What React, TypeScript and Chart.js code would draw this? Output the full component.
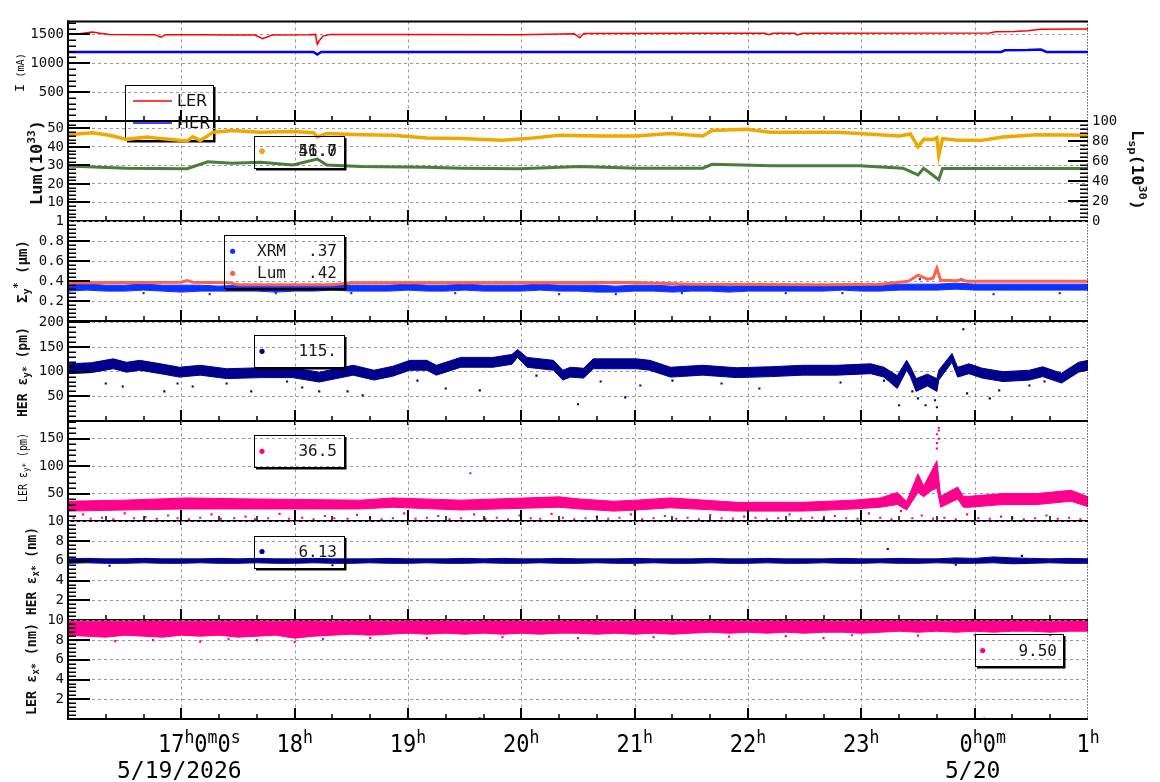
import React, { useEffect, useRef } from 'react';
import { Chart, registerables } from 'chart.js';

Chart.register(...registerables);

// ================= DATA (x = minutes after 16:00, 5/19/2026) =================
const T10 = [0, 10, 20, 30, 40, 50, 60, 70, 80, 90, 100, 110, 120, 130, 140, 150, 160, 170, 180, 190, 200, 210, 220, 230, 240, 250, 260, 270, 280, 290, 300, 310, 320, 330, 340, 350, 360, 370, 380, 390, 400, 410, 420, 430, 440, 450, 460, 470, 480, 490, 500, 510, 520, 530, 540];
const hourTicks = [60, 120, 180, 240, 300, 360, 420, 480, 540];
const timeTickLabels = ['17^h0^m0^s', '18^h', '19^h', '20^h', '21^h', '22^h', '23^h', '0^h0^m', '1^h'];
const dateTickMinutes = [60, 480];
const dateLabels = ['5/19/2026', '5/20'];

// Panel 1 : beam current (mA)
const lerT = [0, 6, 13, 17, 22, 46, 49, 52, 70, 86, 99, 103, 108, 128, 131, 132, 133, 135, 139, 176, 239, 268, 271, 273, 335, 369, 371, 373, 385, 386, 389, 488, 491, 501, 508, 515, 540];
const lerI = [1510, 1510, 1540, 1520, 1500, 1495, 1450, 1495, 1495, 1490, 1490, 1425, 1490, 1495, 1500, 1330, 1390, 1470, 1500, 1500, 1495, 1510, 1440, 1515, 1520, 1520, 1495, 1520, 1520, 1490, 1520, 1525, 1545, 1550, 1565, 1590, 1595];
const herT = [0, 130, 132, 134, 494, 496, 508, 515, 518, 540];
const herI = [1195, 1195, 1150, 1195, 1195, 1225, 1230, 1240, 1195, 1195];
const currentTicks = [500, 1000, 1500];

// Panel 2 : luminosity
const lumT = [0, 13, 22, 31, 42, 49, 63, 66, 70, 77, 87, 102, 119, 130, 132, 137, 155, 172, 190, 208, 230, 243, 260, 282, 301, 319, 336, 341, 359, 372, 407, 419, 440, 446, 450, 453, 458, 460, 461, 463, 471, 484, 495, 513, 540];
const lumV = [46.6, 47.7, 46.3, 44.1, 45.4, 44.5, 43.2, 45.5, 43.5, 48, 48.9, 48, 48.4, 47.7, 45.4, 47.2, 46.6, 46.3, 44.8, 44.5, 43.6, 44.5, 46.3, 45.9, 45.9, 47.2, 45.9, 48.9, 49.5, 48, 48, 47.2, 45.9, 47, 40, 44.1, 44, 45, 35.6, 44.5, 43.6, 43.6, 45.4, 46.6, 46.3];
const lspT = [0, 31, 63, 74, 87, 102, 119, 132, 137, 155, 190, 208, 239, 271, 301, 336, 341, 372, 419, 442, 450, 453, 461, 463, 495, 540];
const lspV = [29.7, 28.5, 28.2, 32, 31.2, 31.7, 30.3, 33.5, 30.3, 29.4, 29, 28.5, 28.2, 29.4, 28.5, 28.5, 30.6, 29.9, 29.9, 28.5, 24.9, 28.5, 22.3, 28.3, 28.3, 28.3];
const lumTicks = [10, 20, 30, 40, 50];
const lspTicks = [0, 20, 40, 60, 80, 100];

// Panel 3 : Sigma_y* (um)
const sigLumT = [0, 60, 63, 66, 85, 90, 140, 150, 300, 330, 400, 430, 440, 445, 450, 455, 458, 460, 462, 470, 473, 476, 540];
const sigLumV = [0.385, 0.39, 0.405, 0.39, 0.385, 0.365, 0.363, 0.385, 0.387, 0.37, 0.365, 0.368, 0.39, 0.40, 0.46, 0.42, 0.43, 0.53, 0.41, 0.405, 0.415, 0.40, 0.40];
const xrmHi = [0.36, 0.37, 0.36, 0.36, 0.37, 0.36, 0.36, 0.36, 0.35, 0.36,
  0.36, 0.35, 0.36, 0.36, 0.37, 0.36, 0.36, 0.36, 0.37, 0.36,
  0.36, 0.37, 0.36, 0.36, 0.36, 0.37, 0.36, 0.36, 0.36, 0.35,
  0.36, 0.36, 0.35, 0.36, 0.36, 0.35, 0.36, 0.36, 0.36, 0.36,
  0.36, 0.37, 0.36, 0.36, 0.37, 0.37, 0.37, 0.38, 0.37, 0.37,
  0.37, 0.37, 0.37, 0.37, 0.37];
const xrmLo = [0.30, 0.31, 0.30, 0.30, 0.31, 0.30, 0.29, 0.30, 0.30, 0.30,
  0.30, 0.29, 0.30, 0.30, 0.31, 0.30, 0.30, 0.30, 0.31, 0.30,
  0.30, 0.31, 0.30, 0.30, 0.30, 0.31, 0.30, 0.30, 0.29, 0.29,
  0.30, 0.30, 0.29, 0.30, 0.30, 0.29, 0.30, 0.30, 0.30, 0.30,
  0.30, 0.31, 0.30, 0.30, 0.31, 0.31, 0.31, 0.32, 0.31, 0.31,
  0.31, 0.31, 0.31, 0.31, 0.31];
const xrmOut = [[40, 0.28], [75, 0.27], [110, 0.28], [150, 0.28], [205, 0.28], [260, 0.27], [290, 0.27], [325, 0.28], [380, 0.28], [410, 0.28], [451, 0.42], [473, 0.42], [490, 0.27], [525, 0.28]];
const sigmaTicks = [0.2, 0.4, 0.6, 0.8, 1];

// Panel 4 : HER eps_y* (pm)
const herEyT = [0, 12, 24, 31, 38, 49, 59, 70, 84, 102, 119, 133, 142, 151, 162, 172, 181, 190, 195, 208, 225, 235, 238, 243, 257, 262, 266, 273, 278, 301, 308, 319, 336, 354, 372, 389, 407, 425, 432, 439, 444, 446, 449, 455, 460, 461, 468, 471, 477, 484, 495, 509, 516, 526, 535, 540];
const herEyHi = [116, 118, 126, 119, 123, 116, 109, 113, 106, 108, 108, 99, 106, 113, 103, 111, 123, 123, 113, 129, 129, 135, 145, 129, 123, 103, 109, 107, 126, 126, 123, 109, 113, 108, 110, 113, 113, 116, 109, 92, 123, 110, 86, 95, 86, 103, 137, 109, 116, 107, 100, 103, 110, 97, 119, 123];
const herEyLo = [96, 98, 106, 99, 103, 96, 89, 93, 86, 88, 88, 79, 86, 93, 83, 91, 103, 103, 93, 109, 109, 115, 129, 109, 103, 83, 89, 87, 106, 106, 103, 89, 93, 88, 90, 93, 93, 96, 89, 66, 103, 90, 60, 71, 60, 83, 119, 89, 96, 87, 80, 83, 90, 77, 99, 103];
const herEyOut = [[20, 76], [29, 70], [51, 60], [58, 76], [66, 70], [84, 76], [97, 60], [116, 80], [124, 68], [133, 60], [148, 60], [156, 52], [185, 82], [200, 66], [218, 62], [248, 92], [270, 34], [282, 80], [295, 48], [303, 72], [320, 82], [346, 76], [366, 66], [409, 78], [432, 82], [440, 32], [447, 60], [450, 46], [454, 32], [459, 42], [460, 28], [474, 186], [476, 56], [488, 46], [493, 62], [509, 72], [517, 80], [531, 92]];
const herEyTicks = [50, 100, 150, 200];

// Panel 5 : LER eps_y* (pm)
const lerEyT = [0, 30, 63, 100, 155, 172, 208, 260, 271, 289, 301, 319, 354, 389, 416, 430, 439, 444, 450, 453, 457, 460, 462, 471, 474, 477, 495, 513, 531, 540];
const lerEyHi = [36, 38, 42, 40, 38, 42, 38, 44, 40, 36, 38, 42, 34, 34, 38, 42, 52, 36, 86, 64, 90, 110, 45, 62, 45, 45, 50, 50, 56, 44];
const lerEyLo = [18, 20, 22, 22, 22, 25, 20, 25, 22, 18, 20, 24, 18, 18, 22, 25, 30, 20, 52, 44, 55, 60, 25, 40, 25, 25, 30, 30, 36, 26];
const lerEyOut = [[3, 5], [8, 12], [12, 4], [18, 6], [24, 3], [30, 14], [35, 5], [41, 7], [47, 4], [53, 10], [58, 5], [64, 3], [70, 6], [76, 12], [81, 4], [88, 5], [94, 8], [99, 3], [106, 5], [112, 13], [117, 4], [124, 6], [130, 3], [136, 9], [141, 5], [148, 4], [153, 11], [160, 6], [166, 3], [172, 5], [178, 14], [184, 4], [190, 6], [196, 9], [202, 3], [208, 5], [213, 87], [215, 12], [221, 4], [227, 6], [233, 3], [239, 10], [245, 5], [250, 4], [256, 13], [262, 6], [268, 3], [274, 5], [280, 8], [286, 4], [292, 6], [298, 12], [304, 3], [310, 5], [316, 9], [322, 4], [328, 6], [334, 3], [340, 11], [346, 5], [352, 4], [358, 8], [364, 6], [370, 3], [376, 5], [382, 12], [388, 4], [394, 6], [400, 3], [406, 9], [412, 5], [418, 4], [424, 14], [430, 6], [436, 3], [441, 18], [447, 5], [452, 10], [458, 4], [460, 132], [460, 142], [461, 150], [460, 158], [461, 165], [461, 170], [464, 6], [470, 3], [476, 12], [482, 5], [488, 4], [494, 8], [500, 6], [506, 3], [512, 5], [518, 10], [524, 4], [530, 6], [536, 3]];
const lerEyTicks = [50, 100, 150];

// Panel 6 : HER eps_x* (nm)
const herExHi = [6.2, 6.25, 6.2, 6.2, 6.25, 6.2, 6.2, 6.2, 6.25, 6.2,
  6.25, 6.2, 6.2, 6.25, 6.2, 6.2, 6.2, 6.25, 6.2, 6.2,
  6.2, 6.25, 6.2, 6.25, 6.2, 6.2, 6.25, 6.2, 6.2, 6.2,
  6.25, 6.2, 6.2, 6.2, 6.25, 6.2, 6.2, 6.25, 6.2, 6.2,
  6.2, 6.25, 6.2, 6.2, 6.25, 6.2, 6.2, 6.3, 6.25, 6.4,
  6.3, 6.25, 6.2, 6.25, 6.2];
const herExLo = [5.75, 5.8, 5.75, 5.75, 5.8, 5.75, 5.75, 5.8, 5.75, 5.75,
  5.8, 5.75, 5.75, 5.8, 5.75, 5.75, 5.8, 5.75, 5.75, 5.8,
  5.75, 5.75, 5.8, 5.75, 5.75, 5.8, 5.75, 5.75, 5.8, 5.75,
  5.75, 5.8, 5.75, 5.75, 5.8, 5.75, 5.75, 5.8, 5.75, 5.75,
  5.8, 5.75, 5.75, 5.8, 5.75, 5.75, 5.8, 5.75, 5.75, 5.8,
  5.7, 5.75, 5.8, 5.75, 5.75];
const herExOut = [[434, 7.2], [22, 5.5], [140, 5.55], [300, 5.6], [470, 5.6], [505, 6.5]];
const exTicks = [2, 4, 6, 8, 10];

// Panel 7 : LER eps_x* (nm)
const lerExHi = [9.95, 9.9, 9.95, 9.9, 9.95, 9.95, 9.9, 9.95, 9.9, 9.95,
  9.95, 9.9, 9.95, 9.95, 9.9, 9.95, 9.95, 9.9, 9.95, 9.95,
  9.95, 9.9, 9.95, 9.95, 9.95, 9.9, 9.95, 9.95, 9.95, 9.9,
  9.95, 9.95, 9.9, 9.95, 9.95, 9.95, 9.9, 9.95, 9.95, 9.95,
  9.95, 9.9, 9.95, 9.95, 9.95, 9.95, 9.9, 9.95, 9.95, 9.95,
  9.95, 9.95, 9.9, 9.95, 9.95];
const lerExLo = [8.5, 8.4, 8.3, 8.5, 8.4, 8.3, 8.5, 8.4, 8.5, 8.3,
  8.4, 8.5, 8.2, 8.4, 8.5, 8.6, 8.5, 8.6, 8.7, 8.6,
  8.7, 8.6, 8.7, 8.6, 8.7, 8.6, 8.7, 8.7, 8.6, 8.7,
  8.6, 8.7, 8.6, 8.7, 8.8, 8.7, 8.8, 8.7, 8.8, 8.7,
  8.8, 8.8, 8.7, 8.8, 8.9, 8.8, 8.9, 8.8, 8.9, 8.8,
  8.9, 8.9, 8.8, 8.9, 8.9];
const lerExOut = [[5, 8.0], [25, 7.9], [45, 8.0], [70, 7.85], [85, 8.1], [100, 8.0], [120, 7.8], [135, 8.1], [160, 8.2], [190, 8.2], [230, 8.3], [270, 8.2], [310, 8.3], [350, 8.35], [380, 8.4], [400, 8.2], [415, 8.5], [450, 8.45], [480, 8.5], [520, 8.5], [218, 0.1], [485, 0.05]];

// Legend texts
const currentLegend = ['LER', 'HER'];
const lumLegendValues = ['41.0', '56.7'];
const sigmaLegendNames = ['XRM', 'Lum'];
const sigmaLegendValues = ['.37', '.42'];
const herEyLegend = '115.';
const lerEyLegend = '36.5';
const herExLegend = '6.13';
const lerExLegend = '9.50';

// ================= STYLE / LAYOUT =================
const COL = {
  ler: '#ff0000', her: '#0000ff', lum: '#f0a800', lsp: '#4a7c3a', xrm: '#1030ff',
  sigLum: '#ff6347', navy: '#00008c', pink: '#ff008c', grid: '#9a9a9a', text: '#111111',
};
const MONO = "'DejaVu Sans Mono', monospace";
const SANS = "'DejaVu Sans', sans-serif";
const PANEL_TOPS = [21, 121, 221, 321, 421, 521, 620];
const PANEL_BOTTOMS = [121, 221, 321, 421, 521, 620, 719];
const timeLabelShift = [18, 0, 0, 0, 0, 0, 0, 8, 0];

type Seg = { t: string; size: number; dy?: number };

const pts = (t: number[], v: number[]) => t.map((x, i) => ({ x, y: v[i] }));
const pairPts = (p: number[][]) => p.map(([x, y]) => ({ x, y }));
const lineDs = (data: any[], color: string, width: number) => ({ data, borderColor: color, borderWidth: width, pointRadius: 0, fill: false, tension: 0 });
const bandDs = (hi: any[], lo: any[], color: string) => [
  { data: hi, borderColor: color, borderWidth: 1, pointRadius: 0, fill: false, tension: 0 },
  { data: lo, borderColor: color, borderWidth: 1, pointRadius: 0, fill: '-1', backgroundColor: color, tension: 0 },
];
const dotDs = (data: any[], color: string) => ({ data, showLine: false, pointRadius: 1.5, pointStyle: 'rect', pointBackgroundColor: color, pointBorderWidth: 0, backgroundColor: color, borderColor: color });

const PANELS: any[] = [
  {
    min: 0, max: 1725, majors: currentTicks, minor: 100,
    datasets: [lineDs(pts(lerT, lerI), COL.ler, 1.5), lineDs(pts(herT, herI), COL.her, 2.5)],
    titles: [{ segs: [{ t: 'I', size: 13 }, { t: ' (mA)', size: 10 }], cx: 21, cy: 72.5, len: 39, rot: -90, bold: false }],
    legend: { box: [125, 85, 213, 140], kind: 'lines', rows: [{ color: COL.ler, name: currentLegend[0], y: 101 }, { color: COL.her, name: currentLegend[1], y: 123 }] },
  },
  {
    min: 0, max: 53.8, majors: lumTicks, minor: 2,
    right: { min: 0, max: 100, majors: lspTicks, minor: 4 },
    datasets: [lineDs(pts(lumT, lumV), COL.lum, 3.5), lineDs(pts(lspT, lspV), COL.lsp, 3)],
    titles: [
      { segs: [{ t: 'Lum(10', size: 15 }, { t: '33', size: 10, dy: -6 }, { t: ')', size: 15 }], cx: 38, cy: 162.5, len: 85, rot: -90, bold: true },
      { segs: [{ t: 'L', size: 16 }, { t: 'sp', size: 11, dy: 4 }, { t: '(10', size: 16 }, { t: '30', size: 11, dy: -6 }, { t: ')', size: 16 }], cx: 1136, cy: 170, len: 80, rot: 90, bold: true },
    ],
    legend: { box: [254, 136, 344, 168], dotX: 262, valueRight: 337, rows: [{ color: COL.lsp, value: lumLegendValues[0], y: 151 }, { color: COL.lum, value: lumLegendValues[1], y: 151 }] },
  },
  {
    min: 0, max: 1, majors: sigmaTicks, minor: 0.04,
    datasets: [lineDs(pts(sigLumT, sigLumV), COL.sigLum, 3), dotDs(pairPts(xrmOut), COL.xrm), ...bandDs(pts(T10, xrmHi), pts(T10, xrmLo), COL.xrm)],
    titles: [{ segs: [{ t: 'Σ', size: 14 }, { t: 'y', size: 10, dy: 4 }, { t: '*', size: 10, dy: -5 }, { t: ' (μm)', size: 14 }], cx: 23, cy: 271.5, len: 63, rot: -90, bold: true }],
    legend: { box: [224, 235, 344, 288], dotX: 232.7, nameX: 257, valueRight: 337, rows: [{ color: COL.xrm, name: sigmaLegendNames[0], value: sigmaLegendValues[0], y: 251.3 }, { color: COL.sigLum, name: sigmaLegendNames[1], value: sigmaLegendValues[1], y: 273.3 }] },
  },
  {
    min: 0, max: 202, majors: herEyTicks, minor: 10,
    datasets: [dotDs(pairPts(herEyOut), COL.navy), ...bandDs(pts(herEyT, herEyHi), pts(herEyT, herEyLo), COL.navy)],
    titles: [{ segs: [{ t: 'HER ε', size: 14 }, { t: 'y*', size: 10, dy: 4 }, { t: ' (pm)', size: 14 }], cx: 23, cy: 372, len: 90, rot: -90, bold: true }],
    legend: { box: [254, 335, 344, 367], dotX: 262, valueRight: 337, rows: [{ color: COL.navy, value: herEyLegend, y: 351.3 }] },
  },
  {
    min: 0, max: 181.5, majors: lerEyTicks, minor: 10,
    datasets: [dotDs(pairPts(lerEyOut), COL.pink), ...bandDs(pts(lerEyT, lerEyHi), pts(lerEyT, lerEyLo), COL.pink)],
    titles: [{ segs: [{ t: 'LER ε', size: 12 }, { t: 'y*', size: 9, dy: 3 }, { t: ' (pm)', size: 12 }], cx: 24, cy: 467.5, len: 69, rot: -90, bold: false }],
    legend: { box: [254, 435, 344, 467], dotX: 262, valueRight: 337, rows: [{ color: COL.pink, value: lerEyLegend, y: 451.3 }] },
  },
  {
    min: 0, max: 10, majors: exTicks, minor: 0.4,
    datasets: [dotDs(pairPts(herExOut), COL.navy), ...bandDs(pts(T10, herExHi), pts(T10, herExLo), COL.navy)],
    titles: [{ segs: [{ t: 'HER ε', size: 14 }, { t: 'x*', size: 10, dy: 4 }, { t: ' (nm)', size: 14 }], cx: 32, cy: 571, len: 88, rot: -90, bold: true }],
    legend: { box: [254, 536, 344, 568], dotX: 262, valueRight: 337, rows: [{ color: COL.navy, value: herExLegend, y: 551.5 }] },
  },
  {
    min: 0, max: 10, majors: exTicks, minor: 0.4,
    datasets: [dotDs(pairPts(lerExOut), COL.pink), ...bandDs(pts(T10, lerExHi), pts(T10, lerExLo), COL.pink)],
    titles: [{ segs: [{ t: 'LER ε', size: 14 }, { t: 'x*', size: 10, dy: 4 }, { t: ' (nm)', size: 14 }], cx: 32, cy: 669, len: 92, rot: -90, bold: true }],
    legend: { box: [975, 634, 1063, 666], dotX: 982.7, valueRight: 1057, rows: [{ color: COL.pink, value: lerExLegend, y: 650.5 }] },
  },
];

function geom(i: number) {
  const top = PANEL_TOPS[i];
  const bottom = PANEL_BOTTOMS[i];
  const padTop = 12;
  const padBottom = i === 6 ? 782 - bottom : 25;
  return { padTop, padBottom, canvasTop: top - padTop, h: padTop + (bottom - top) + padBottom };
}

function drawRich(ctx: CanvasRenderingContext2D, segs: Seg[], o: any) {
  ctx.save();
  const font = (s: Seg) => `${o.bold ? 'bold ' : ''}${s.size}px ${o.family}`;
  const widths = segs.map((s) => { ctx.font = font(s); return ctx.measureText(s.t).width; });
  const total = widths.reduce((a, b) => a + b, 0);
  const sx = o.fitLen ? o.fitLen / total : (o.sx ?? 1);
  ctx.translate(o.x, o.y);
  if (o.rot) ctx.rotate((o.rot * Math.PI) / 180);
  ctx.scale(sx, o.sy ?? 1);
  ctx.fillStyle = o.color;
  ctx.textAlign = 'left';
  ctx.textBaseline = o.baseline ?? 'alphabetic';
  let cx = o.align === 'center' ? -total / 2 : 0;
  segs.forEach((s, i) => { ctx.font = font(s); ctx.fillText(s.t, cx, s.dy ?? 0); cx += widths[i]; });
  ctx.restore();
}

function parseTimeLabel(s: string): Seg[] {
  const segs: Seg[] = [];
  let buf = '';
  for (let i = 0; i < s.length; i++) {
    if (s[i] === '^') {
      if (buf) { segs.push({ t: buf, size: 22 }); buf = ''; }
      segs.push({ t: s[i + 1], size: 16.5, dy: -8 });
      i++;
    } else buf += s[i];
  }
  if (buf) segs.push({ t: buf, size: 22 });
  return segs;
}

function seg(ctx: CanvasRenderingContext2D, x1: number, y1: number, x2: number, y2: number) {
  ctx.beginPath(); ctx.moveTo(x1, y1); ctx.lineTo(x2, y2); ctx.stroke();
}

function makePlugin(p: any, idx: number, canvasTop: number) {
  const isLast = idx === PANELS.length - 1;
  return {
    id: 'deco' + idx,
    beforeDatasetsDraw(chart: any) {
      const { ctx, chartArea: a, scales } = chart;
      ctx.save();
      ctx.strokeStyle = COL.grid; ctx.lineWidth = 1; ctx.setLineDash([3, 3]);
      hourTicks.forEach((m) => {
        if (m >= 540) return;
        const x = Math.round(scales.x.getPixelForValue(m)) + 0.5;
        seg(ctx, x, a.top, x, a.bottom);
      });
      ctx.restore();
    },
    afterDraw(chart: any) {
      const { ctx, chartArea: a, scales } = chart;
      const xs = scales.x;
      ctx.save();
      ctx.strokeStyle = '#000';
      // dotted right frame
      ctx.lineWidth = 1; ctx.setLineDash([1, 2]);
      seg(ctx, a.right - 0.5, a.top, a.right - 0.5, a.bottom);
      ctx.setLineDash([]);
      // inside x ticks (every 20 min)
      for (let m = 20; m < 540; m += 20) {
        const x = Math.round(xs.getPixelForValue(m));
        if (m % 60 === 0) { ctx.lineWidth = 2; seg(ctx, x, a.bottom - 11, x, a.bottom + (isLast ? 0 : 4)); }
        else { ctx.lineWidth = 1.5; seg(ctx, x, a.bottom - 5, x, a.bottom); }
      }
      // inside y ticks
      const yTicks = (scale: any, x0: number, dir: number, majors: number[], minor: number, min: number, max: number, majLen: number) => {
        ctx.lineWidth = 2;
        majors.forEach((v) => {
          if (v <= min + 1e-9 || v >= max - 1e-9) return;
          const y = Math.round(scale.getPixelForValue(v));
          seg(ctx, x0, y, x0 + dir * majLen, y);
        });
        ctx.lineWidth = 1.5;
        for (let k = 1; k * minor < max - 1e-9; k++) {
          const v = k * minor;
          if (majors.some((mj) => Math.abs(mj - v) < minor * 0.01)) continue;
          const y = Math.round(scale.getPixelForValue(v)) + 0.25;
          seg(ctx, x0, y, x0 + dir * 8, y);
        }
      };
      yTicks(scales.y, a.left, 1, p.majors, p.minor, p.min, p.max, 22);
      if (p.right) yTicks(scales.y2, a.right, -1, p.right.majors, p.right.minor, p.right.min, p.right.max, 20);
      // frame
      ctx.lineWidth = 2;
      seg(ctx, a.left - 1, a.bottom, a.right, a.bottom);
      if (idx === 0) seg(ctx, a.left - 1, a.top, a.right, a.top);
      seg(ctx, a.left, a.top - 1, a.left, a.bottom + 1);

      // axis titles
      p.titles.forEach((t: any) => {
        drawRich(ctx, t.segs, { x: t.cx, y: t.cy - canvasTop, rot: t.rot, bold: t.bold, family: MONO, color: COL.text, fitLen: t.len, align: 'center', baseline: 'middle' });
      });

      // legend
      const lg = p.legend;
      const [bx1, by1, bx2, by2] = lg.box;
      const oy = -canvasTop;
      ctx.lineWidth = 1; ctx.strokeStyle = '#000';
      ctx.strokeRect(bx1 + 0.5, by1 + oy + 0.5, bx2 - bx1, by2 - by1);
      ctx.lineWidth = 1.5;
      ctx.beginPath();
      ctx.moveTo(bx2 + 1.75, by1 + oy + 2); ctx.lineTo(bx2 + 1.75, by2 + oy + 1.75); ctx.lineTo(bx1 + 2, by2 + oy + 1.75);
      ctx.stroke();
      lg.rows.forEach((r: any) => {
        const y = r.y + oy;
        if (lg.kind === 'lines') {
          ctx.strokeStyle = r.color; ctx.lineWidth = 1.5;
          seg(ctx, 133, y, 172, y);
          ctx.fillStyle = COL.text; ctx.font = `16px ${SANS}`; ctx.textAlign = 'left'; ctx.textBaseline = 'middle';
          ctx.fillText(r.name, 177, y + 1);
        } else {
          ctx.fillStyle = r.color;
          ctx.beginPath(); ctx.arc(lg.dotX, y, 2.6, 0, Math.PI * 2); ctx.fill();
          ctx.fillStyle = '#1a1a1a'; ctx.font = `16px ${MONO}`; ctx.textBaseline = 'middle';
          if (r.name) { ctx.textAlign = 'left'; ctx.fillText(r.name, lg.nameX, y + 1); }
          if (r.value) { ctx.textAlign = 'right'; ctx.fillText(r.value, lg.valueRight, y + 1); }
        }
      });

      // time axis labels
      if (isLast) {
        hourTicks.forEach((m, i) => {
          drawRich(ctx, parseTimeLabel(timeTickLabels[i]), { x: xs.getPixelForValue(m) + timeLabelShift[i], y: 752 - canvasTop, family: MONO, color: '#000', align: 'center', sy: 1.12 });
        });
        dateTickMinutes.forEach((m, i) => {
          drawRich(ctx, [{ t: dateLabels[i], size: 23 }], { x: xs.getPixelForValue(m) - 2, y: 778 - canvasTop, family: MONO, color: '#000', align: 'center' });
        });
      }
      ctx.restore();
    },
  };
}

function yScale(position: string, min: number, max: number, majors: number[], width: number, grid: boolean) {
  return {
    type: 'linear', position, min, max,
    afterFit: (s: any) => { s.width = width; },
    afterBuildTicks: (s: any) => { s.ticks = majors.map((v) => ({ value: v })); },
    ticks: { font: { family: MONO, size: 14 }, color: COL.text, padding: 4, autoSkip: false, callback: (v: any) => String(v) },
    grid: { display: grid, color: COL.grid, lineWidth: 1, drawTicks: false },
    border: { display: false, dash: [3, 3] },
  };
}

function buildConfig(p: any, i: number): any {
  const g = geom(i);
  const scales: any = {
    x: { type: 'linear', min: 0, max: 540, display: false },
    y: yScale('left', p.min, p.max, p.majors, 68, true),
  };
  if (p.right) scales.y2 = yScale('right', p.right.min, p.right.max, p.right.majors, 72, false);
  return {
    type: 'line',
    data: { datasets: p.datasets },
    options: {
      responsive: false,
      animation: false,
      events: [],
      layout: { padding: { top: g.padTop, bottom: g.padBottom, left: 0, right: p.right ? 0 : 72 } },
      plugins: { legend: { display: false }, tooltip: { enabled: false } },
      scales,
    },
    plugins: [makePlugin(p, i, g.canvasTop)],
  };
}

export default function App() {
  const refs = useRef<(HTMLCanvasElement | null)[]>([]);
  useEffect(() => {
    const charts = PANELS.map((p, i) => new Chart(refs.current[i] as HTMLCanvasElement, buildConfig(p, i)));
    return () => charts.forEach((c) => c.destroy());
  }, []);
  return (
    <div style={{ position: 'absolute', left: 0, top: 0, width: 1160, height: 782, background: '#ffffff', overflow: 'hidden' }}>
      {PANELS.map((_, i) => {
        const g = geom(i);
        return (
          <canvas
            key={i}
            ref={(el) => { refs.current[i] = el; }}
            width={1160}
            height={g.h}
            style={{ position: 'absolute', left: 0, top: g.canvasTop, width: 1160, height: g.h }}
          />
        );
      })}
    </div>
  );
}
